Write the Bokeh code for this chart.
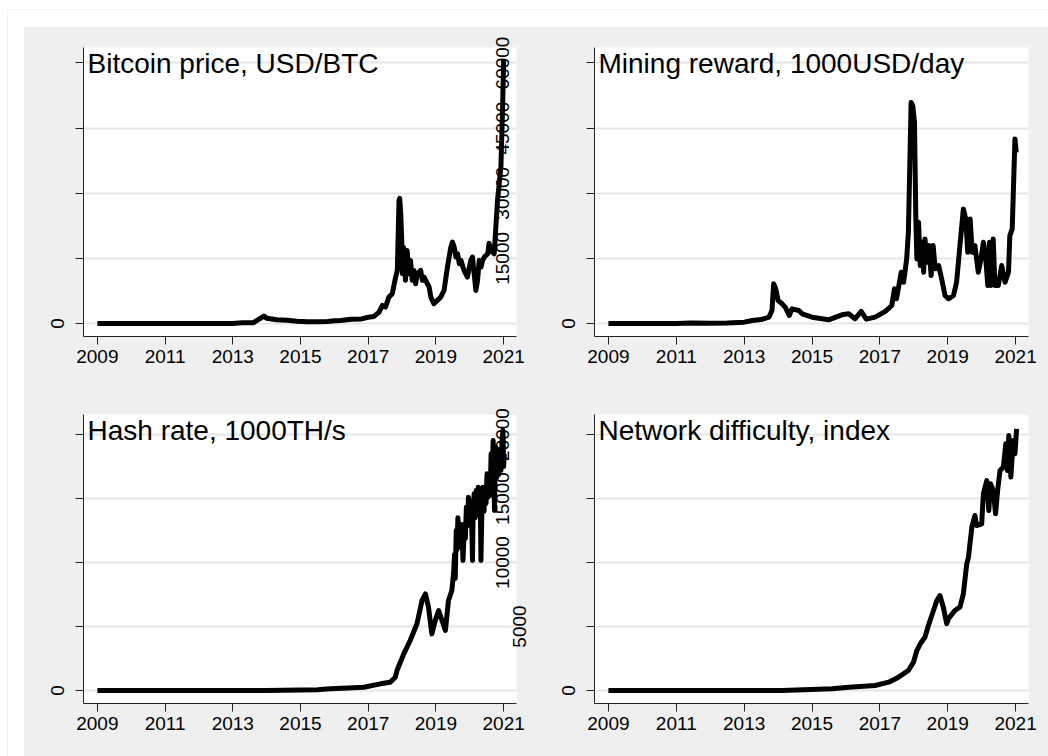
from math import pi
from bokeh.plotting import figure
from bokeh.models import Range1d, FixedTicker, Label, Spacer, CustomJSTickFormatter, LinearAxis
from bokeh.layouts import column, row
from bokeh.embed import file_html
from bokeh.resources import INLINE

# ---------------- data ----------------
year_ticks = [2009, 2011, 2013, 2015, 2017, 2019, 2021]

price_ticks = [0, 10000, 20000, 30000, 40000]
reward_ticks = [0, 15000, 30000, 45000, 60000]
hash_ticks = [0, 40000, 80000, 120000, 160000]
diff_ticks = [0, 5000, 10000, 15000, 20000]

titles = ["Bitcoin price, USD/BTC", "Mining reward, 1000USD/day",
          "Hash rate, 1000TH/s", "Network difficulty, index"]

price_year = [2009.0, 2010.0, 2010.5, 2011.0, 2011.45, 2011.9, 2012.5, 2013.0, 2013.27, 2013.6,
              2013.85, 2013.92, 2014.0, 2014.3, 2014.6, 2014.9, 2015.2, 2015.5, 2015.8, 2016.0,
              2016.18, 2016.5, 2016.8, 2017.0, 2017.17, 2017.32, 2017.42, 2017.51, 2017.61, 2017.71,
              2017.81, 2017.86, 2017.91, 2017.93, 2017.96, 2017.99, 2018.01, 2018.04, 2018.08, 2018.10,
              2018.15, 2018.20, 2018.25, 2018.30, 2018.35, 2018.40, 2018.45, 2018.55, 2018.60, 2018.65,
              2018.75, 2018.80, 2018.85, 2018.94, 2019.04, 2019.14, 2019.24, 2019.34, 2019.44, 2019.49,
              2019.54, 2019.59, 2019.64, 2019.69, 2019.74, 2019.83, 2019.93, 2020.03, 2020.08, 2020.13,
              2020.18, 2020.23, 2020.28, 2020.33, 2020.38, 2020.43, 2020.53, 2020.57, 2020.62, 2020.72,
              2020.77, 2020.82, 2020.87, 2020.92, 2020.97, 2021.0]
price_val = [0, 0, 0, 1, 15, 3, 7, 13, 120, 100,
             900, 1150, 800, 560, 500, 340, 250, 250, 300, 430,
             460, 650, 700, 950, 1080, 1740, 2770, 2510, 4050, 4560,
             7130, 8150, 18900, 19200, 16900, 12800, 7640, 11700, 10700, 6620,
             11200, 7640, 9690, 6620, 8150, 6100, 7640, 8150, 6620, 7130,
             6100, 5590, 4050, 3030, 3540, 4050, 5080, 8670, 11700, 12500,
             11700, 10200, 10700, 9180, 9690, 8150, 7130, 9690, 10200, 7640,
             5080, 6620, 9690, 8670, 9690, 10200, 10700, 12300, 11200, 10700,
             14800, 18900, 21500, 24100, 33300, 40500]

reward_year = [2009.0, 2010.0, 2011.0, 2011.45, 2012.0, 2012.5, 2013.0, 2013.24, 2013.5, 2013.73,
               2013.82, 2013.87, 2013.93, 2014.0, 2014.12, 2014.21, 2014.33, 2014.41, 2014.61, 2014.71,
               2015.0, 2015.49, 2015.88, 2016.08, 2016.27, 2016.45, 2016.6, 2016.86, 2017.16, 2017.35,
               2017.43, 2017.49, 2017.63, 2017.70, 2017.79, 2017.84, 2017.89, 2017.92, 2017.97, 2018.02,
               2018.06, 2018.09, 2018.14, 2018.19, 2018.24, 2018.29, 2018.33, 2018.38, 2018.45, 2018.51,
               2018.57, 2018.63, 2018.73, 2018.82, 2018.92, 2019.02, 2019.17, 2019.26, 2019.36, 2019.46,
               2019.53, 2019.59, 2019.66, 2019.72, 2019.80, 2019.90, 2019.98, 2020.05, 2020.12, 2020.18,
               2020.23, 2020.27, 2020.34, 2020.39, 2020.49, 2020.59, 2020.69, 2020.79, 2020.83, 2020.90,
               2020.93, 2020.98, 2021.02]
reward_val = [0, 0, 10, 100, 40, 100, 300, 690, 900, 1450,
              2990, 9130, 8000, 5290, 4530, 3750, 1840, 3380, 2990, 2230,
              1450, 850, 2000, 2230, 1080, 2800, 1000, 1450, 2800, 4140,
              7980, 5680, 11800, 9500, 14880, 21000, 39400, 50900, 50140, 46300,
              24100, 14880, 23300, 13340, 18700, 11800, 19480, 14100, 17940, 11040,
              17940, 12580, 13340, 10280, 6440, 5680, 6440, 9500, 17940, 26380,
              24080, 16400, 24080, 16400, 17940, 11800, 14880, 18700, 14880, 8740,
              18700, 8740, 19480, 8740, 8740, 13340, 9500, 11800, 20240, 21780,
              29440, 42480, 39400]

hash_year = [2009.0, 2010.0, 2011.0, 2012.0, 2013.0, 2014.0, 2014.5, 2015.0, 2015.5, 2015.88,
             2016.4, 2016.87, 2017.36, 2017.65, 2017.80, 2017.85, 2018.05, 2018.24, 2018.44, 2018.59,
             2018.69, 2018.78, 2018.88, 2018.98, 2019.08, 2019.18, 2019.28, 2019.37, 2019.47, 2019.52,
             2019.55, 2019.57, 2019.60, 2019.62, 2019.65, 2019.68, 2019.71, 2019.74, 2019.77, 2019.80,
             2019.84, 2019.87, 2019.90, 2019.93, 2019.96, 2019.99, 2020.02, 2020.05, 2020.08, 2020.10,
             2020.13, 2020.16, 2020.19, 2020.22, 2020.25, 2020.28, 2020.31, 2020.33, 2020.36, 2020.39,
             2020.42, 2020.45, 2020.48, 2020.51, 2020.54, 2020.57, 2020.60, 2020.63, 2020.66, 2020.69,
             2020.71, 2020.73, 2020.75, 2020.77, 2020.80, 2020.83, 2020.86, 2020.89, 2020.92, 2020.95,
             2020.98, 2021.00, 2021.02]
hash_val = [0, 0, 0, 0, 10, 60, 200, 350, 450, 1040,
            1500, 2080, 4170, 5200, 8330, 12500, 22900, 31250, 41700, 56250,
            60400, 52100, 35400, 43750, 50000, 43750, 37500, 56250, 62500, 72900,
            85000, 70000, 100000, 88000, 108000, 95000, 104000, 89600, 100000, 81250,
            104000, 95000, 114600, 103000, 120800, 108000, 118000, 110400, 81250, 115000,
            122900, 108000, 125000, 110400, 127100, 112000, 118750, 81250, 115000, 127100,
            112000, 125000, 117000, 135400, 120800, 132000, 122000, 147900, 130000, 156250,
            135000, 112500, 140000, 152000, 133300, 150000, 135000, 147900, 137500, 155000,
            162500, 140000, 147900]

diff_year = [2009.0, 2011.0, 2013.0, 2014.12, 2015.59, 2016.08, 2016.86, 2017.26, 2017.55, 2017.84,
             2017.99, 2018.09, 2018.19, 2018.33, 2018.43, 2018.58, 2018.68, 2018.77, 2018.87, 2018.97,
             2019.02, 2019.21, 2019.36, 2019.46, 2019.56, 2019.61, 2019.71, 2019.80, 2019.85, 2020.00,
             2020.05, 2020.15, 2020.21, 2020.26, 2020.34, 2020.41, 2020.47, 2020.54, 2020.64, 2020.71,
             2020.76, 2020.80, 2020.86, 2020.93, 2020.98, 2021.03]
diff_val = [0, 0, 0, 10, 130, 260, 390, 650, 1040, 1560,
            2210, 3125, 3650, 4170, 5080, 6250, 7030, 7420, 6510, 5210,
            5600, 6250, 6510, 7550, 9900, 10400, 12760, 13670, 12890, 13020,
            15360, 16400, 14060, 16150, 15625, 13800, 15625, 17190, 17450, 19270,
            17190, 19920, 16670, 19530, 18490, 20440]

# ---------------- styling ----------------
FONT = "Liberation Sans"
FONT_PX = 19
DIGIT_EM = 0.556          # digit advance of Liberation Sans
BG = "#efefef"
GRID = "#e6e6e6"
AXIS = "#222222"
X_START, X_END = 2008.59, 2021.38
TOP_H, TOP_MT, TOP_MB = 349, 20, 40
BOT_H, BOT_MT, BOT_MB = 380, 38, 53


def make_panel(title, xs, ys, yticks, width, height, mb_left, mb_right, mb_top, mb_bottom,
               lo_frac, hi_frac):
    step = yticks[1] - yticks[0]
    p = figure(width=width, height=height, output_backend="svg", toolbar_location=None,
               x_range=Range1d(X_START, X_END),
               y_range=Range1d(yticks[0] - lo_frac * step, yticks[-1] + hi_frac * step),
               min_border_left=mb_left, min_border_right=mb_right,
               min_border_top=mb_top, min_border_bottom=mb_bottom)
    p.border_fill_color = BG
    p.background_fill_color = "white"
    p.outline_line_color = None
    p.xgrid.grid_line_color = None
    p.ygrid.grid_line_color = GRID
    p.ygrid.grid_line_width = 2
    p.ygrid.ticker = FixedTicker(ticks=yticks)

    p.line(xs, ys, line_width=5, line_color="black", line_join="round")

    p.xaxis.ticker = FixedTicker(ticks=year_ticks)
    p.yaxis.ticker = FixedTicker(ticks=yticks)
    p.yaxis.formatter = CustomJSTickFormatter(code="return tick == 0 ? '0' : '';")
    for ax in (p.xaxis[0], p.yaxis[0]):
        ax.axis_line_color = AXIS
        ax.major_tick_line_color = AXIS
        ax.minor_tick_line_color = None
        ax.major_tick_in = 0
        ax.major_tick_out = 8
        ax.major_label_text_font = FONT
        ax.major_label_text_font_size = f"{FONT_PX}px"
        ax.major_label_text_color = "black"
    p.xaxis.major_label_standoff = 5
    p.yaxis.major_label_standoff = 11
    p.yaxis.major_label_orientation = "vertical"

    p.add_layout(Label(x=X_START, y=p.y_range.end, x_offset=4, y_offset=0, text=title,
                       text_font=FONT, text_font_size="28px", text_color="black",
                       text_align="left", text_baseline="top"))
    return p


p1 = make_panel(titles[0], price_year, price_val, price_ticks, 531, TOP_H, 59, 39, TOP_MT, TOP_MB, 0.2, 0.238)
p2 = make_panel(titles[1], reward_year, reward_val, reward_ticks, 493, TOP_H, 39, 20, TOP_MT, TOP_MB, 0.2, 0.238)
p3 = make_panel(titles[2], hash_year, hash_val, hash_ticks, 531, BOT_H, 59, 39, BOT_MT, BOT_MB, 0.203, 0.3125)
p4 = make_panel(titles[3], diff_year, diff_val, diff_ticks, 493, BOT_H, 39, 20, BOT_MT, BOT_MB, 0.203, 0.3125)

# the right panels' tick labels spill over into the left panels:
# drawn as extra right-hand axes of the left panels, pulled back over the frame edge.
# Rotated labels start at their anchor, so the anchor is moved down by half a label
# length and the formatter shows the true tick value.
for left, right, ticks, fpx in ((p1, p2, reward_ticks, TOP_H - TOP_MT - TOP_MB),
                                (p3, p4, diff_ticks, BOT_H - BOT_MT - BOT_MB)):
    left.extra_y_ranges = {"r": right.y_range}
    per_px = (right.y_range.end - right.y_range.start) / fpx
    step = ticks[1] - ticks[0]
    groups = {}
    for t in ticks[1:]:
        groups.setdefault(len(str(t)), []).append(t)
    for n in sorted(groups, reverse=True):
        off = n * DIGIT_EM * FONT_PX / 2 * per_px
        ax = LinearAxis(y_range_name="r",
                        ticker=FixedTicker(ticks=[t - off for t in groups[n]]),
                        formatter=CustomJSTickFormatter(
                            args=dict(off=off, step=step),
                            code="return String(Math.round((tick + off) / step) * step);"),
                        axis_line_color=None, major_tick_line_color=None,
                        minor_tick_line_color=None, major_tick_in=0, major_tick_out=0,
                        major_label_orientation=pi / 2,
                        major_label_standoff=-14 if n == 5 else 1,
                        major_label_text_font=FONT, major_label_text_font_size=f"{FONT_PX}px",
                        major_label_text_color="black")
        left.add_layout(ax, "right")

grid = column(row(p1, p2, styles={"background-color": BG}),
              row(p3, p4, styles={"background-color": BG}),
              styles={"background-color": BG})
# faint outer frame line of the exported graph (top and left edges)
outer_styles = {
    "background": ("linear-gradient(#f3f3f3, #f3f3f3) 7px 9px / 1041px 1px no-repeat, "
                   "linear-gradient(#f3f3f3, #f3f3f3) 7px 9px / 1px 747px no-repeat"),
}
layout = column(Spacer(height=27), row(Spacer(width=24), grid), styles=outer_styles)

open("out.html", "w").write(file_html(layout, INLINE))
